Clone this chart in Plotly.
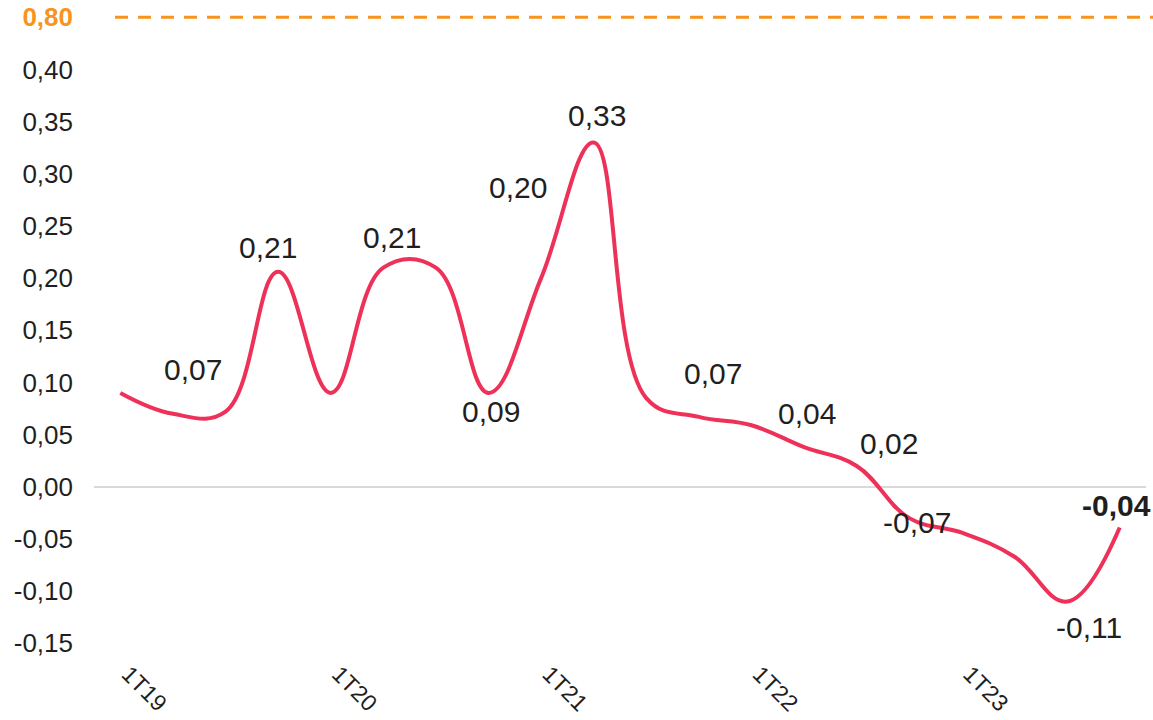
import plotly.graph_objects as go

# Quarterly series (first quarter of each year carries an axis label)
quarters = [
    "1T19", "2T19", "3T19", "4T19",
    "1T20", "2T20", "3T20", "4T20",
    "1T21", "2T21", "3T21", "4T21",
    "1T22", "2T22", "3T22", "4T22",
    "1T23", "2T23", "3T23", "4T23",
]
values = [
    0.09, 0.07, 0.072, 0.206,
    0.09, 0.21, 0.21, 0.09,
    0.20, 0.33, 0.085, 0.067,
    0.059, 0.038, 0.02, -0.03,
    -0.044, -0.067, -0.11, -0.039,
]
x_tick_labels = ["1T19", "1T20", "1T21", "1T22", "1T23"]

# Points that carry a value label, with the label offset (px) from the point
labelled = ["2T19", "4T19", "2T20", "4T20", "1T21", "2T21",
            "4T21", "2T22", "3T22", "2T23", "3T23", "4T23"]
label_dx = [20, -10, 9, 2, -23, 3, 14, 3, 32, -98, 22, -3]
label_dy = [-44, -24, -30, 19, -91, -27, -43, -34, -22, -34, 26, -22]
bold_labels = ["4T23"]

# Broken y axis: the reference level is drawn just above the top of the scale
y_ticks = [0.40, 0.35, 0.30, 0.25, 0.20, 0.15, 0.10, 0.05, 0.00, -0.05, -0.10, -0.15]
reference_value = 0.80
reference_pos = 0.45

LINE_COLOR = "#EE3158"
REF_COLOR = "#F7941D"
TEXT_COLOR = "#1F1F1F"
FONT = "Liberation Sans, Arial, sans-serif"


def fmt(v):
    return f"{v:.2f}".replace(".", ",")


x_idx = list(range(len(quarters)))

fig = go.Figure()
fig.add_trace(go.Scatter(
    x=x_idx, y=values, mode="lines",
    line=dict(color=LINE_COLOR, width=4, shape="spline", smoothing=1.15),
    hoverinfo="skip", showlegend=False,
))

annotations = []
for q, dx, dy in zip(labelled, label_dx, label_dy):
    i = quarters.index(q)
    txt = fmt(values[i])
    if q in bold_labels:
        txt = f"<b>{txt}</b>"
    annotations.append(dict(
        x=i, y=values[i], xref="x", yref="y", text=txt, showarrow=False,
        xshift=dx, yshift=-dy, xanchor="center", yanchor="middle",
        font=dict(family=FONT, size=30, color=TEXT_COLOR),
    ))

fig.add_shape(
    type="line", xref="paper", yref="y",
    x0=0.02, x1=1.01, y0=reference_pos, y1=reference_pos,
    line=dict(color=REF_COLOR, width=3, dash="13px,10px"),
)

tickvals = [reference_pos] + y_ticks
ticktext = [f"<span style='color:{REF_COLOR}'><b>{fmt(reference_value)}</b></span>"] + [fmt(v) for v in y_ticks]

fig.update_layout(
    width=1153, height=720,
    margin=dict(l=94, r=7, t=12, b=61),
    paper_bgcolor="white", plot_bgcolor="white",
    font=dict(family=FONT, size=26, color=TEXT_COLOR),
    annotations=annotations,
    xaxis=dict(
        range=[-0.5, len(quarters) - 0.5],
        tickvals=[quarters.index(t) for t in x_tick_labels],
        ticktext=x_tick_labels,
        tickangle=45, showgrid=False, zeroline=False, showline=False,
        ticks="", automargin=False, ticklabelstandoff=-4, ticklabelshift=8,
        tickfont=dict(family=FONT, size=23, color=TEXT_COLOR),
    ),
    yaxis=dict(
        range=[-0.165, 0.455],
        tickvals=tickvals, ticktext=ticktext,
        showgrid=False, zeroline=True, zerolinecolor="#D9D9D9", zerolinewidth=2,
        showline=False, ticks="", automargin=False, ticklabelstandoff=20,
        tickfont=dict(family=FONT, size=26, color=TEXT_COLOR),
    ),
)

fig.write_html("out.html")
